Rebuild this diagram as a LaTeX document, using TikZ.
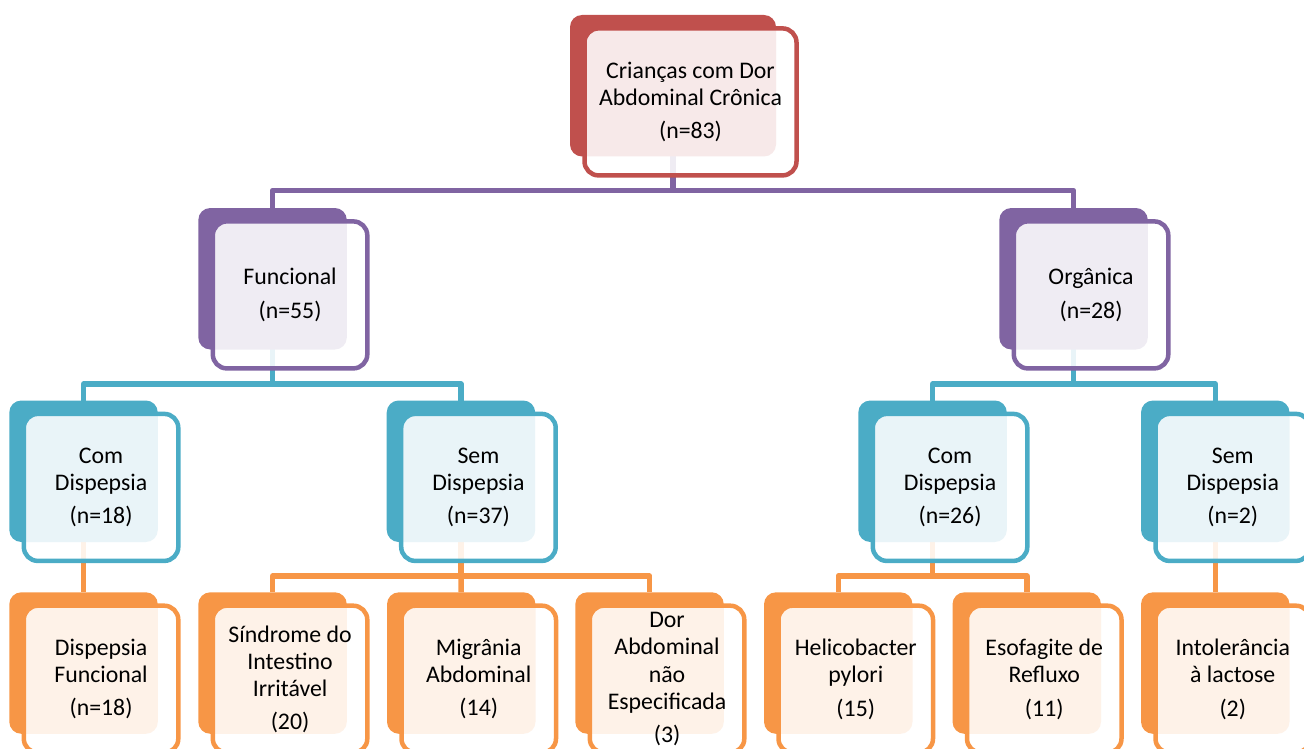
\documentclass[tikz,border=0pt]{standalone}
\usepackage{fontspec}
\setmainfont{Carlito}
\definecolor{cred}{HTML}{C0504D}
\definecolor{cpurp}{HTML}{8064A2}
\definecolor{cteal}{HTML}{4BACC6}
\definecolor{corange}{HTML}{F79646}
\pgfdeclarelayer{background}
\pgfsetlayers{background,main}
\tikzset{
  backbox/.style={rectangle, rounded corners=12pt, inner sep=0pt, outer sep=0pt,
    minimum height=141.5pt, draw=none},
  frontbox/.style={rectangle, rounded corners=14pt, inner sep=0pt, outer sep=0pt,
    minimum height=147pt, line width=4.5pt, fill=white, fill opacity=0.88,
    text opacity=1, align=center, text=black,
    font=\fontsize{23.8}{27.2}\selectfont},
  conn/.style={draw=#1, line width=5.5pt, line join=round}
}
\newcommand{\smbox}[6]{%
  \node[backbox, fill=#5, minimum width=#4, anchor=north west] (#1b) at (#2,#3) {};
  \pgfmathsetmacro{\fx}{#2+(#4+35)/2}%
  \pgfmathsetmacro{\fy}{#3+86.9}%
  \pgfmathsetmacro{\fw}{#4+6}%
  \node[frontbox, draw=#5, minimum width=\fw] (#1) at (\fx,\fy) {#6};
}
\begin{document}
\begin{tikzpicture}[x=1pt,y=-1pt]
\useasboundingbox (0,0) rectangle (1304,749);
\clip (0,0) rectangle (1304,749);
% bars
\coordinate (bar1) at (0,190.5);
\coordinate (bar2) at (0,384);
\coordinate (bar3) at (0,576);
% boxes
\smbox{root}{570}{15}{206}{cred}{Crianças com Dor\\Abdominal Crônica\\[6pt](n=83)}
\smbox{fun}{198.3}{208}{148.5}{cpurp}{Funcional\\[7pt](n=55)}
\smbox{org}{999.3}{208}{148.5}{cpurp}{Orgânica\\[7pt](n=28)}
\smbox{cdl}{9.3}{400.5}{148.5}{cteal}{Com\\Dispepsia\\[6pt](n=18)}
\smbox{sdl}{386.7}{400.5}{148.5}{cteal}{Sem\\Dispepsia\\[6pt](n=37)}
\smbox{cdr}{858.3}{400.5}{148.5}{cteal}{Com\\Dispepsia\\[6pt](n=26)}
\smbox{sdr}{1141}{400.5}{148.5}{cteal}{Sem\\Dispepsia\\[6pt](n=2)}
\smbox{df}{9.3}{592.3}{148.5}{corange}{Dispepsia\\Funcional\\[6pt](n=18)}
\smbox{sii}{198.3}{592.3}{148.5}{corange}{Síndrome do\\Intestino\\Irritável\\[6pt](20)}
\smbox{ma}{387}{592.3}{148.5}{corange}{Migrânia\\Abdominal\\[6pt](14)}
\smbox{dane}{575.3}{592.3}{148.5}{corange}{Dor\\Abdominal\\não\\Especificada\\[6pt](3)}
\smbox{hp}{764}{592.3}{148.5}{corange}{Helicobacter\\pylori\\[6pt](15)}
\smbox{er}{952.5}{592.3}{148.5}{corange}{Esofagite de\\Refluxo\\[6pt](11)}
\smbox{il}{1141}{592.3}{148.5}{corange}{Intolerância\\à lactose\\[6pt](2)}
% connectors
\begin{pgfonlayer}{background}
\draw[conn=cpurp] (rootb.center) -- (rootb.center |- bar1) -| (funb.north);
\draw[conn=cpurp] (rootb.center |- bar1) -| (orgb.north);
\draw[conn=cteal] (funb.center) -- (funb.center |- bar2) -| (cdlb.north);
\draw[conn=cteal] (funb.center |- bar2) -| (sdlb.north);
\draw[conn=cteal] (orgb.center) -- (orgb.center |- bar2) -| (cdrb.north);
\draw[conn=cteal] (orgb.center |- bar2) -| (sdrb.north);
\draw[conn=corange] (cdlb.center) -- (dfb.north);
\draw[conn=corange] (sdlb.center) -- (sdlb.center |- bar3) -| (siib.north);
\draw[conn=corange] (sdlb.center |- bar3) -| (daneb.north);
\draw[conn=corange] (sdlb.center |- bar3) -- (mab.north);
\draw[conn=corange] (cdrb.center) -- (cdrb.center |- bar3) -| (hpb.north);
\draw[conn=corange] (cdrb.center |- bar3) -| (erb.north);
\draw[conn=corange] (sdrb.center) -- (ilb.north);
\end{pgfonlayer}
\end{tikzpicture}
\end{document}
